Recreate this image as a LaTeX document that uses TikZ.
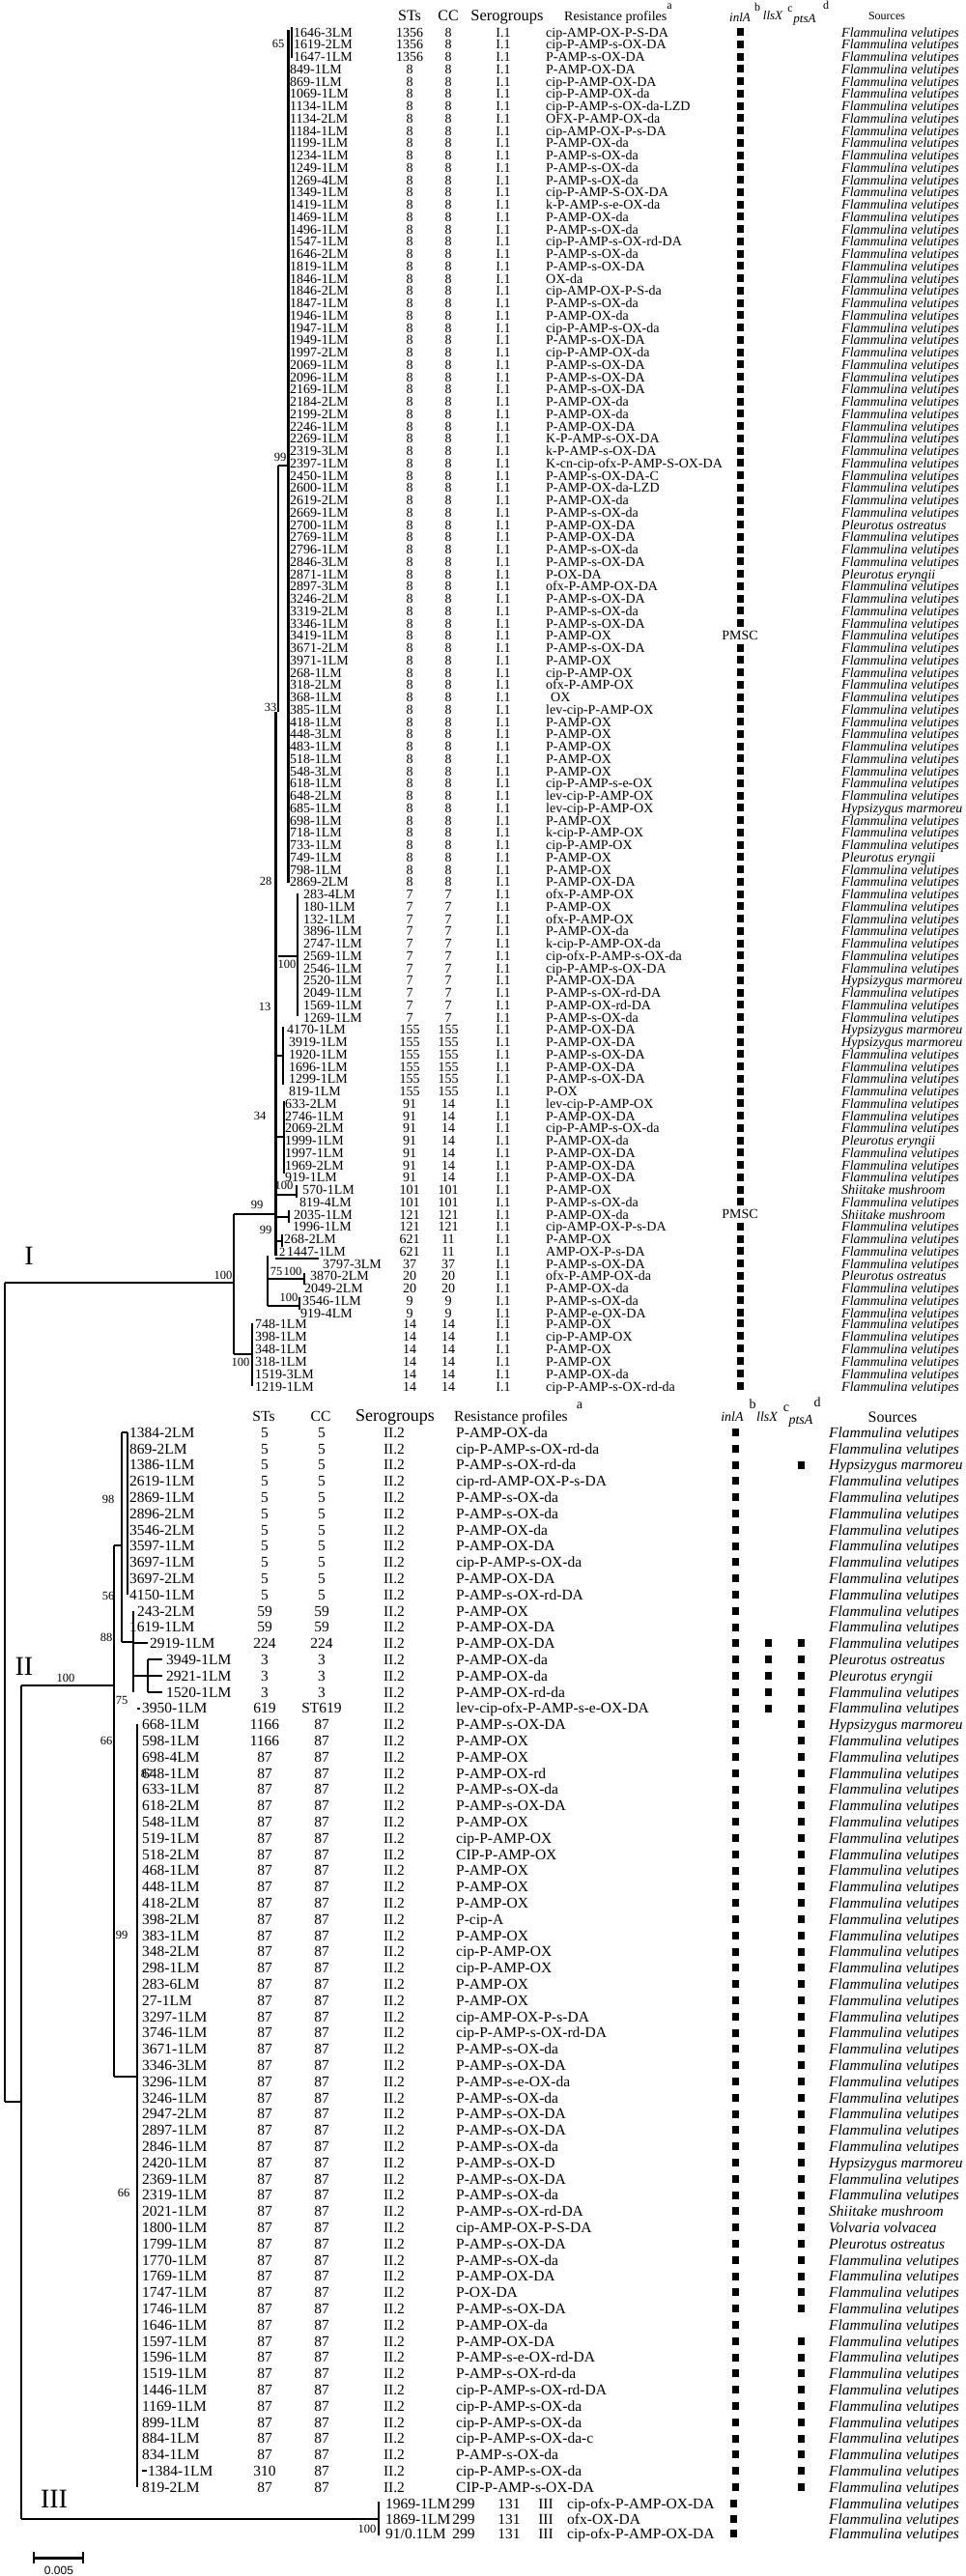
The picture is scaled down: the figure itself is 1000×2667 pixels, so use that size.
\documentclass[tikz,border=0pt]{standalone}
\usepackage{fontspec}
\setmainfont{Liberation Serif}
\newfontfamily\sansf{Liberation Sans}
\newcommand\srcF{\textit{Flammulina velutipes}}
\newcommand\srcPO{\textit{Pleurotus ostreatus}}
\newcommand\srcPE{\textit{Pleurotus eryngii}}
\newcommand\srcH{\textit{Hypsizygus marmoreu}}
\newcommand\srcS{\textit{Shiitake mushroom}}
\newcommand\srcV{\textit{Volvaria volvacea}}
\newcommand\gsq{\rule{7pt}{8pt}}
\tikzset{
 tt/.style={inner sep=0pt, font=\fontsize{14}{14}\selectfont},
 bt/.style={inner sep=0pt, font=\fontsize{15.5}{15.5}\selectfont},
 brl/.style={line width=1.3pt},
 tkl/.style={line width=3pt},
 boot/.style={inner sep=0pt, font=\fontsize{12.5}{12.5}\selectfont},
 clab/.style={inner sep=0pt, font=\fontsize{28}{28}\selectfont},
 sqn/.style={fill=black, minimum width=7pt, minimum height=8pt, inner sep=0pt},
}
\newcommand\TR[8]{%
 \pgfmathsetmacro\yy{#1<106 ? 33+(#1-1)*12.75 : 1370+(#1-106)*13}%
 \node[tt,anchor=base west] (tl#1) at (#2,\yy+5) {#3};
 \node[tt,anchor=base] (ts#1) at (424,\yy+5) {#4};
 \node[tt,anchor=base] (tc#1) at (464,\yy+5) {#5};
 \node[tt,anchor=base] (tg#1) at (521,\yy+5) {I.1};
 \node[tt,anchor=base west] (tr#1) at (565,\yy+5) {#6};
 \node[tt] (tq#1) at (766,\yy) {#7};
 \node[tt,anchor=base west] (to#1) at (871,\yy+5) {#8};
}
\newcommand\BR[8]{%
 \pgfmathsetmacro\yy{1483+(#1-1)*16.8}%
 \node[bt,anchor=base west] (bl#1) at (#2,\yy+5.3) {#3};
 \node[bt,anchor=base] (bs#1) at (274,\yy+5.3) {#4};
 \node[bt,anchor=base] (bc#1) at (333,\yy+5.3) {#5};
 \node[bt,anchor=base] (bg#1) at (408,\yy+5.3) {II.2};
 \node[bt,anchor=base west] (bp#1) at (472,\yy+5.3) {#6};
 \foreach \gx in {#7} {\node[sqn] (bq#1-\gx) at (\gx,\yy) {};}
 \node[bt,anchor=base west] (bo#1) at (858,\yy+5.3) {#8};
}
\begin{document}
\begin{tikzpicture}[x=1pt,y=-1pt]
\useasboundingbox (0,0) rectangle (1000,2667);
\fill[white] (0,0) rectangle (1000,2667);

% ---------- top header ----------
\node[inner sep=0pt,anchor=base,font=\fontsize{16}{16}\selectfont] (hST) at (424,21) {STs};
\node[inner sep=0pt,anchor=base,font=\fontsize{16}{16}\selectfont] (hCC) at (464,21) {CC};
\node[inner sep=0pt,anchor=base,font=\fontsize{16.5}{16.5}\selectfont] (hSG) at (525,21) {Serogroups};
\node[inner sep=0pt,anchor=base west,font=\fontsize{14}{14}\selectfont] (hRP) at (584,21) {Resistance profiles};
\node[inner sep=0pt,anchor=base,font=\fontsize{12}{12}\selectfont] (ha) at (693,9) {a};
\node[inner sep=0pt,anchor=base,font=\fontsize{13}{13}\selectfont\itshape] (hin) at (766,22) {inlA};
\node[inner sep=0pt,anchor=base,font=\fontsize{12}{12}\selectfont] (hb) at (784,11) {b};
\node[inner sep=0pt,anchor=base,font=\fontsize{13}{13}\selectfont\itshape] (hll) at (800,20) {llsX};
\node[inner sep=0pt,anchor=base,font=\fontsize{12}{12}\selectfont] (hc) at (818,12) {c};
\node[inner sep=0pt,anchor=base,font=\fontsize{13}{13}\selectfont\itshape] (hpt) at (833,23) {ptsA};
\node[inner sep=0pt,anchor=base,font=\fontsize{12}{12}\selectfont] (hd) at (855,9) {d};
\node[inner sep=0pt,anchor=base,font=\fontsize{12}{12}\selectfont] (hSo) at (918,20) {Sources};

% ---------- top rows ----------
\TR{1}{304}{1646-3LM}{1356}{8}{cip-AMP-OX-P-S-DA}{\gsq}{\srcF}
\TR{2}{304}{1619-2LM}{1356}{8}{cip-P-AMP-s-OX-DA}{\gsq}{\srcF}
\TR{3}{304}{1647-1LM}{1356}{8}{P-AMP-s-OX-DA}{\gsq}{\srcF}
\TR{4}{300}{849-1LM}{8}{8}{P-AMP-OX-DA}{\gsq}{\srcF}
\TR{5}{300}{869-1LM}{8}{8}{cip-P-AMP-OX-DA}{\gsq}{\srcF}
\TR{6}{300}{1069-1LM}{8}{8}{cip-P-AMP-OX-da}{\gsq}{\srcF}
\TR{7}{300}{1134-1LM}{8}{8}{cip-P-AMP-s-OX-da-LZD}{\gsq}{\srcF}
\TR{8}{300}{1134-2LM}{8}{8}{OFX-P-AMP-OX-da}{\gsq}{\srcF}
\TR{9}{300}{1184-1LM}{8}{8}{cip-AMP-OX-P-s-DA}{\gsq}{\srcF}
\TR{10}{300}{1199-1LM}{8}{8}{P-AMP-OX-da}{\gsq}{\srcF}
\TR{11}{300}{1234-1LM}{8}{8}{P-AMP-s-OX-da}{\gsq}{\srcF}
\TR{12}{300}{1249-1LM}{8}{8}{P-AMP-s-OX-da}{\gsq}{\srcF}
\TR{13}{300}{1269-4LM}{8}{8}{P-AMP-s-OX-da}{\gsq}{\srcF}
\TR{14}{300}{1349-1LM}{8}{8}{cip-P-AMP-S-OX-DA}{\gsq}{\srcF}
\TR{15}{300}{1419-1LM}{8}{8}{k-P-AMP-s-e-OX-da}{\gsq}{\srcF}
\TR{16}{300}{1469-1LM}{8}{8}{P-AMP-OX-da}{\gsq}{\srcF}
\TR{17}{300}{1496-1LM}{8}{8}{P-AMP-s-OX-da}{\gsq}{\srcF}
\TR{18}{300}{1547-1LM}{8}{8}{cip-P-AMP-s-OX-rd-DA}{\gsq}{\srcF}
\TR{19}{300}{1646-2LM}{8}{8}{P-AMP-s-OX-da}{\gsq}{\srcF}
\TR{20}{300}{1819-1LM}{8}{8}{P-AMP-s-OX-DA}{\gsq}{\srcF}
\TR{21}{300}{1846-1LM}{8}{8}{OX-da}{\gsq}{\srcF}
\TR{22}{300}{1846-2LM}{8}{8}{cip-AMP-OX-P-S-da}{\gsq}{\srcF}
\TR{23}{300}{1847-1LM}{8}{8}{P-AMP-s-OX-da}{\gsq}{\srcF}
\TR{24}{300}{1946-1LM}{8}{8}{P-AMP-OX-da}{\gsq}{\srcF}
\TR{25}{300}{1947-1LM}{8}{8}{cip-P-AMP-s-OX-da}{\gsq}{\srcF}
\TR{26}{300}{1949-1LM}{8}{8}{P-AMP-s-OX-DA}{\gsq}{\srcF}
\TR{27}{300}{1997-2LM}{8}{8}{cip-P-AMP-OX-da}{\gsq}{\srcF}
\TR{28}{300}{2069-1LM}{8}{8}{P-AMP-s-OX-DA}{\gsq}{\srcF}
\TR{29}{300}{2096-1LM}{8}{8}{P-AMP-s-OX-DA}{\gsq}{\srcF}
\TR{30}{300}{2169-1LM}{8}{8}{P-AMP-s-OX-DA}{\gsq}{\srcF}
\TR{31}{300}{2184-2LM}{8}{8}{P-AMP-OX-da}{\gsq}{\srcF}
\TR{32}{300}{2199-2LM}{8}{8}{P-AMP-OX-da}{\gsq}{\srcF}
\TR{33}{300}{2246-1LM}{8}{8}{P-AMP-OX-DA}{\gsq}{\srcF}
\TR{34}{300}{2269-1LM}{8}{8}{K-P-AMP-s-OX-DA}{\gsq}{\srcF}
\TR{35}{300}{2319-3LM}{8}{8}{k-P-AMP-s-OX-DA}{\gsq}{\srcF}
\TR{36}{300}{2397-1LM}{8}{8}{K-cn-cip-ofx-P-AMP-S-OX-DA}{\gsq}{\srcF}
\TR{37}{300}{2450-1LM}{8}{8}{P-AMP-s-OX-DA-C}{\gsq}{\srcF}
\TR{38}{300}{2600-1LM}{8}{8}{P-AMP-OX-da-LZD}{\gsq}{\srcF}
\TR{39}{300}{2619-2LM}{8}{8}{P-AMP-OX-da}{\gsq}{\srcF}
\TR{40}{300}{2669-1LM}{8}{8}{P-AMP-s-OX-da}{\gsq}{\srcF}
\TR{41}{300}{2700-1LM}{8}{8}{P-AMP-OX-DA}{\gsq}{\srcPO}
\TR{42}{300}{2769-1LM}{8}{8}{P-AMP-OX-DA}{\gsq}{\srcF}
\TR{43}{300}{2796-1LM}{8}{8}{P-AMP-s-OX-da}{\gsq}{\srcF}
\TR{44}{300}{2846-3LM}{8}{8}{P-AMP-s-OX-DA}{\gsq}{\srcF}
\TR{45}{300}{2871-1LM}{8}{8}{P-OX-DA}{\gsq}{\srcPE}
\TR{46}{300}{2897-3LM}{8}{8}{ofx-P-AMP-OX-DA}{\gsq}{\srcF}
\TR{47}{300}{3246-2LM}{8}{8}{P-AMP-s-OX-DA}{\gsq}{\srcF}
\TR{48}{300}{3319-2LM}{8}{8}{P-AMP-s-OX-da}{\gsq}{\srcF}
\TR{49}{300}{3346-1LM}{8}{8}{P-AMP-s-OX-DA}{\gsq}{\srcF}
\TR{50}{300}{3419-1LM}{8}{8}{P-AMP-OX}{PMSC}{\srcF}
\TR{51}{300}{3671-2LM}{8}{8}{P-AMP-s-OX-DA}{\gsq}{\srcF}
\TR{52}{300}{3971-1LM}{8}{8}{P-AMP-OX}{\gsq}{\srcF}
\TR{53}{300}{268-1LM}{8}{8}{cip-P-AMP-OX}{\gsq}{\srcF}
\TR{54}{300}{318-2LM}{8}{8}{ofx-P-AMP-OX}{\gsq}{\srcF}
\TR{55}{300}{368-1LM}{8}{8}{\hspace{5pt}OX}{\gsq}{\srcF}
\TR{56}{300}{385-1LM}{8}{8}{lev-cip-P-AMP-OX}{\gsq}{\srcF}
\TR{57}{300}{418-1LM}{8}{8}{P-AMP-OX}{\gsq}{\srcF}
\TR{58}{300}{448-3LM}{8}{8}{P-AMP-OX}{\gsq}{\srcF}
\TR{59}{300}{483-1LM}{8}{8}{P-AMP-OX}{\gsq}{\srcF}
\TR{60}{300}{518-1LM}{8}{8}{P-AMP-OX}{\gsq}{\srcF}
\TR{61}{300}{548-3LM}{8}{8}{P-AMP-OX}{\gsq}{\srcF}
\TR{62}{300}{618-1LM}{8}{8}{cip-P-AMP-s-e-OX}{\gsq}{\srcF}
\TR{63}{300}{648-2LM}{8}{8}{lev-cip-P-AMP-OX}{\gsq}{\srcF}
\TR{64}{300}{685-1LM}{8}{8}{lev-cip-P-AMP-OX}{\gsq}{\srcH}
\TR{65}{300}{698-1LM}{8}{8}{P-AMP-OX}{\gsq}{\srcF}
\TR{66}{300}{718-1LM}{8}{8}{k-cip-P-AMP-OX}{\gsq}{\srcF}
\TR{67}{300}{733-1LM}{8}{8}{cip-P-AMP-OX}{\gsq}{\srcF}
\TR{68}{300}{749-1LM}{8}{8}{P-AMP-OX}{\gsq}{\srcPE}
\TR{69}{300}{798-1LM}{8}{8}{P-AMP-OX}{\gsq}{\srcF}
\TR{70}{300}{2869-2LM}{8}{8}{P-AMP-OX-DA}{\gsq}{\srcF}
\TR{71}{314}{283-4LM}{7}{7}{ofx-P-AMP-OX}{\gsq}{\srcF}
\TR{72}{314}{180-1LM}{7}{7}{P-AMP-OX}{\gsq}{\srcF}
\TR{73}{314}{132-1LM}{7}{7}{ofx-P-AMP-OX}{\gsq}{\srcF}
\TR{74}{314}{3896-1LM}{7}{7}{P-AMP-OX-da}{\gsq}{\srcF}
\TR{75}{314}{2747-1LM}{7}{7}{k-cip-P-AMP-OX-da}{\gsq}{\srcF}
\TR{76}{314}{2569-1LM}{7}{7}{cip-ofx-P-AMP-s-OX-da}{\gsq}{\srcF}
\TR{77}{314}{2546-1LM}{7}{7}{cip-P-AMP-s-OX-DA}{\gsq}{\srcF}
\TR{78}{314}{2520-1LM}{7}{7}{P-AMP-OX-DA}{\gsq}{\srcH}
\TR{79}{314}{2049-1LM}{7}{7}{P-AMP-s-OX-rd-DA}{\gsq}{\srcF}
\TR{80}{314}{1569-1LM}{7}{7}{P-AMP-OX-rd-DA}{\gsq}{\srcF}
\TR{81}{314}{1269-1LM}{7}{7}{P-AMP-s-OX-da}{\gsq}{\srcF}
\TR{82}{297}{4170-1LM}{155}{155}{P-AMP-OX-DA}{\gsq}{\srcH}
\TR{83}{299}{3919-1LM}{155}{155}{P-AMP-OX-DA}{\gsq}{\srcH}
\TR{84}{299}{1920-1LM}{155}{155}{P-AMP-s-OX-DA}{\gsq}{\srcF}
\TR{85}{299}{1696-1LM}{155}{155}{P-AMP-OX-DA}{\gsq}{\srcF}
\TR{86}{299}{1299-1LM}{155}{155}{P-AMP-s-OX-DA}{\gsq}{\srcF}
\TR{87}{299}{819-1LM}{155}{155}{P-OX}{\gsq}{\srcF}
\TR{88}{295}{633-2LM}{91}{14}{lev-cip-P-AMP-OX}{\gsq}{\srcF}
\TR{89}{295}{2746-1LM}{91}{14}{P-AMP-OX-DA}{\gsq}{\srcF}
\TR{90}{295}{2069-2LM}{91}{14}{cip-P-AMP-s-OX-da}{\gsq}{\srcF}
\TR{91}{295}{1999-1LM}{91}{14}{P-AMP-OX-da}{\gsq}{\srcPE}
\TR{92}{295}{1997-1LM}{91}{14}{P-AMP-OX-DA}{\gsq}{\srcF}
\TR{93}{295}{1969-2LM}{91}{14}{P-AMP-OX-DA}{\gsq}{\srcF}
\TR{94}{295}{919-1LM}{91}{14}{P-AMP-OX-DA}{\gsq}{\srcF}
\TR{95}{313}{570-1LM}{101}{101}{P-AMP-OX}{\gsq}{\srcS}
\TR{96}{310}{819-4LM}{101}{101}{P-AMP-s-OX-da}{\gsq}{\srcF}
\TR{97}{304}{2035-1LM}{121}{121}{P-AMP-OX-da}{PMSC}{\srcS}
\TR{98}{303}{1996-1LM}{121}{121}{cip-AMP-OX-P-s-DA}{\gsq}{\srcF}
\TR{99}{294}{268-2LM}{621}{11}{P-AMP-OX}{\gsq}{\srcF}
\TR{100}{297}{1447-1LM}{621}{11}{AMP-OX-P-s-DA}{\gsq}{\srcF}
\TR{101}{334}{3797-3LM}{37}{37}{P-AMP-s-OX-DA}{\gsq}{\srcF}
\TR{102}{321}{3870-2LM}{20}{20}{ofx-P-AMP-OX-da}{\gsq}{\srcPO}
\TR{103}{315}{2049-2LM}{20}{20}{P-AMP-OX-da}{\gsq}{\srcF}
\TR{104}{313}{3546-1LM}{9}{9}{P-AMP-s-OX-da}{\gsq}{\srcF}
\TR{105}{311}{919-4LM}{9}{9}{P-AMP-e-OX-DA}{\gsq}{\srcF}
\TR{106}{264}{748-1LM}{14}{14}{P-AMP-OX}{\gsq}{\srcF}
\TR{107}{264}{398-1LM}{14}{14}{cip-P-AMP-OX}{\gsq}{\srcF}
\TR{108}{264}{348-1LM}{14}{14}{P-AMP-OX}{\gsq}{\srcF}
\TR{109}{264}{318-1LM}{14}{14}{P-AMP-OX}{\gsq}{\srcF}
\TR{110}{264}{1519-3LM}{14}{14}{P-AMP-OX-da}{\gsq}{\srcF}
\TR{111}{264}{1219-1LM}{14}{14}{cip-P-AMP-s-OX-rd-da}{\gsq}{\srcF}

% ---------- top tree ----------
\draw[tkl] (298,31) -- (298,914);
\draw[brl] (302,28) -- (302,60);
\draw[brl] (288,482) -- (298,482);
\draw[brl] (288,482) -- (288,737);
\draw[tkl] (285,737) -- (285,1300);
\draw[brl] (288,990) -- (308,990);
\draw[brl] (308,925) -- (308,1052);
\draw[brl] (285,1093) -- (293,1093);
\draw[brl] (293,1063) -- (293,1123);
\draw[brl] (285,1177) -- (294,1177);
\draw[brl] (294,1140) -- (294,1215);
\draw[brl] (285,1237) -- (307,1237);
\draw[brl] (307,1227) -- (307,1240);
\draw[brl] (285,1260) -- (299,1260);
\draw[brl] (299,1253) -- (299,1266);
\draw[brl] (285,1285) -- (292,1285);
\draw[brl] (292,1278) -- (292,1291);
\draw[brl] (285,1303) -- (330,1303);
\draw[brl] (277,1300) -- (277,1352);
\draw[brl] (277,1324) -- (315,1324);
\draw[brl] (315,1318) -- (315,1330);
\draw[brl] (277,1352) -- (310,1352);
\draw[brl] (310,1343) -- (310,1356);
\draw[brl] (242,1257) -- (285,1257);
\draw[brl] (242,1257) -- (242,1402);
\draw[brl] (242,1402) -- (261,1402);
\draw[brl] (261,1370) -- (261,1435);
\draw[brl] (5,1328) -- (242,1328);

\node[boot] (b1) at (288,45) {65};
\node[boot] (b2) at (290,473) {99};
\node[boot] (b3) at (280,732) {33};
\node[boot] (b4) at (275,912) {28};
\node[boot] (b5) at (297,998) {100};
\node[boot] (b6) at (274,1042) {13};
\node[boot] (b7) at (269,1155) {34};
\node[boot] (b8) at (294,1227) {100};
\node[boot] (b9) at (266,1247) {99};
\node[boot] (b10) at (275,1273) {99};
\node[boot] (b11) at (289,1296) {12};
\node[boot] (b12) at (286,1316) {75};
\node[boot] (b13) at (303,1316) {100};
\node[boot] (b14) at (299,1343) {100};
\node[boot] (b15) at (231,1320) {100};
\node[boot] (b16) at (249,1410) {100};
\node[clab] (cI) at (30,1300) {I};

% ---------- bottom header ----------
\node[inner sep=0pt,anchor=base,font=\fontsize{15.5}{15.5}\selectfont] (gST) at (273,1471) {STs};
\node[inner sep=0pt,anchor=base,font=\fontsize{15.5}{15.5}\selectfont] (gCC) at (332,1471) {CC};
\node[inner sep=0pt,anchor=base,font=\fontsize{18}{18}\selectfont] (gSG) at (409,1471) {Serogroups};
\node[inner sep=0pt,anchor=base west,font=\fontsize{15.5}{15.5}\selectfont] (gRP) at (470,1471) {Resistance profiles};
\node[inner sep=0pt,anchor=base,font=\fontsize{14}{14}\selectfont] (ga) at (600,1458) {a};
\node[inner sep=0pt,anchor=base,font=\fontsize{14}{14}\selectfont\itshape] (gin) at (758,1471) {inlA};
\node[inner sep=0pt,anchor=base,font=\fontsize{14}{14}\selectfont] (gb) at (779,1458) {b};
\node[inner sep=0pt,anchor=base,font=\fontsize{14}{14}\selectfont\itshape] (gll) at (794,1471) {llsX};
\node[inner sep=0pt,anchor=base,font=\fontsize{14}{14}\selectfont] (gc) at (814,1461) {c};
\node[inner sep=0pt,anchor=base,font=\fontsize{14}{14}\selectfont\itshape] (gpt) at (829,1474) {ptsA};
\node[inner sep=0pt,anchor=base,font=\fontsize{14}{14}\selectfont] (gd) at (846,1456) {d};
\node[inner sep=0pt,anchor=base,font=\fontsize{16}{16}\selectfont] (gSo) at (924,1472) {Sources};

% ---------- bottom rows ----------
\BR{1}{134}{1384-2LM}{5}{5}{P-AMP-OX-da}{761}{\srcF}
\BR{2}{134}{869-2LM}{5}{5}{cip-P-AMP-s-OX-rd-da}{761}{\srcF}
\BR{3}{134}{1386-1LM}{5}{5}{P-AMP-s-OX-rd-da}{761,829}{\srcH}
\BR{4}{134}{2619-1LM}{5}{5}{cip-rd-AMP-OX-P-s-DA}{761}{\srcF}
\BR{5}{134}{2869-1LM}{5}{5}{P-AMP-s-OX-da}{761}{\srcF}
\BR{6}{134}{2896-2LM}{5}{5}{P-AMP-s-OX-da}{761}{\srcF}
\BR{7}{134}{3546-2LM}{5}{5}{P-AMP-OX-da}{761}{\srcF}
\BR{8}{134}{3597-1LM}{5}{5}{P-AMP-OX-DA}{761}{\srcF}
\BR{9}{134}{3697-1LM}{5}{5}{cip-P-AMP-s-OX-da}{761}{\srcF}
\BR{10}{134}{3697-2LM}{5}{5}{P-AMP-OX-DA}{761}{\srcF}
\BR{11}{134}{4150-1LM}{5}{5}{P-AMP-s-OX-rd-DA}{761}{\srcF}
\BR{12}{142}{243-2LM}{59}{59}{P-AMP-OX}{761}{\srcF}
\BR{13}{134}{1619-1LM}{59}{59}{P-AMP-OX-DA}{761}{\srcF}
\BR{14}{155}{2919-1LM}{224}{224}{P-AMP-OX-DA}{761,795,829}{\srcF}
\BR{15}{172}{3949-1LM}{3}{3}{P-AMP-OX-da}{761,795,829}{\srcPO}
\BR{16}{172}{2921-1LM}{3}{3}{P-AMP-OX-da}{761,795,829}{\srcPE}
\BR{17}{172}{1520-1LM}{3}{3}{P-AMP-OX-rd-da}{761,795,829}{\srcF}
\BR{18}{147}{3950-1LM}{619}{ST619}{lev-cip-ofx-P-AMP-s-e-OX-DA}{761,795,829}{\srcF}
\BR{19}{147}{668-1LM}{1166}{87}{P-AMP-s-OX-DA}{761,829}{\srcH}
\BR{20}{147}{598-1LM}{1166}{87}{P-AMP-OX}{761,829}{\srcF}
\BR{21}{147}{698-4LM}{87}{87}{P-AMP-OX}{761,829}{\srcF}
\BR{22}{147}{648-1LM}{87}{87}{P-AMP-OX-rd}{761,829}{\srcF}
\BR{23}{147}{633-1LM}{87}{87}{P-AMP-s-OX-da}{761,829}{\srcF}
\BR{24}{147}{618-2LM}{87}{87}{P-AMP-s-OX-DA}{761,829}{\srcF}
\BR{25}{147}{548-1LM}{87}{87}{P-AMP-OX}{761,829}{\srcF}
\BR{26}{147}{519-1LM}{87}{87}{cip-P-AMP-OX}{761,829}{\srcF}
\BR{27}{147}{518-2LM}{87}{87}{CIP-P-AMP-OX}{761,829}{\srcF}
\BR{28}{147}{468-1LM}{87}{87}{P-AMP-OX}{761,829}{\srcF}
\BR{29}{147}{448-1LM}{87}{87}{P-AMP-OX}{761,829}{\srcF}
\BR{30}{147}{418-2LM}{87}{87}{P-AMP-OX}{761,829}{\srcF}
\BR{31}{147}{398-2LM}{87}{87}{P-cip-A}{761,829}{\srcF}
\BR{32}{147}{383-1LM}{87}{87}{P-AMP-OX}{761,829}{\srcF}
\BR{33}{147}{348-2LM}{87}{87}{cip-P-AMP-OX}{761,829}{\srcF}
\BR{34}{147}{298-1LM}{87}{87}{cip-P-AMP-OX}{761,829}{\srcF}
\BR{35}{147}{283-6LM}{87}{87}{P-AMP-OX}{761,829}{\srcF}
\BR{36}{147}{27-1LM}{87}{87}{P-AMP-OX}{761,829}{\srcF}
\BR{37}{147}{3297-1LM}{87}{87}{cip-AMP-OX-P-s-DA}{761,829}{\srcF}
\BR{38}{147}{3746-1LM}{87}{87}{cip-P-AMP-s-OX-rd-DA}{761,829}{\srcF}
\BR{39}{147}{3671-1LM}{87}{87}{P-AMP-s-OX-da}{761,829}{\srcF}
\BR{40}{147}{3346-3LM}{87}{87}{P-AMP-s-OX-DA}{761,829}{\srcF}
\BR{41}{147}{3296-1LM}{87}{87}{P-AMP-s-e-OX-da}{761,829}{\srcF}
\BR{42}{147}{3246-1LM}{87}{87}{P-AMP-s-OX-da}{761,829}{\srcF}
\BR{43}{147}{2947-2LM}{87}{87}{P-AMP-s-OX-DA}{761,829}{\srcF}
\BR{44}{147}{2897-1LM}{87}{87}{P-AMP-s-OX-DA}{761,829}{\srcF}
\BR{45}{147}{2846-1LM}{87}{87}{P-AMP-s-OX-da}{761,829}{\srcF}
\BR{46}{147}{2420-1LM}{87}{87}{P-AMP-s-OX-D}{761,829}{\srcH}
\BR{47}{147}{2369-1LM}{87}{87}{P-AMP-s-OX-DA}{761,829}{\srcF}
\BR{48}{147}{2319-1LM}{87}{87}{P-AMP-s-OX-da}{761,829}{\srcF}
\BR{49}{147}{2021-1LM}{87}{87}{P-AMP-s-OX-rd-DA}{761,829}{\srcS}
\BR{50}{147}{1800-1LM}{87}{87}{cip-AMP-OX-P-S-DA}{761,829}{\srcV}
\BR{51}{147}{1799-1LM}{87}{87}{P-AMP-s-OX-DA}{761,829}{\srcPO}
\BR{52}{147}{1770-1LM}{87}{87}{P-AMP-s-OX-da}{761,829}{\srcF}
\BR{53}{147}{1769-1LM}{87}{87}{P-AMP-OX-DA}{761,829}{\srcF}
\BR{54}{147}{1747-1LM}{87}{87}{P-OX-DA}{761,829}{\srcF}
\BR{55}{147}{1746-1LM}{87}{87}{P-AMP-s-OX-DA}{761,829}{\srcF}
\BR{56}{147}{1646-1LM}{87}{87}{P-AMP-OX-da}{761}{\srcF}
\BR{57}{147}{1597-1LM}{87}{87}{P-AMP-OX-DA}{761,829}{\srcF}
\BR{58}{147}{1596-1LM}{87}{87}{P-AMP-s-e-OX-rd-DA}{761,829}{\srcF}
\BR{59}{147}{1519-1LM}{87}{87}{P-AMP-s-OX-rd-da}{761,829}{\srcF}
\BR{60}{147}{1446-1LM}{87}{87}{cip-P-AMP-s-OX-rd-DA}{761,829}{\srcF}
\BR{61}{147}{1169-1LM}{87}{87}{cip-P-AMP-s-OX-da}{761,829}{\srcF}
\BR{62}{147}{899-1LM}{87}{87}{cip-P-AMP-s-OX-da}{761,829}{\srcF}
\BR{63}{147}{884-1LM}{87}{87}{cip-P-AMP-s-OX-da-c}{761,829}{\srcF}
\BR{64}{147}{834-1LM}{87}{87}{P-AMP-s-OX-da}{761,829}{\srcF}
\BR{65}{153}{1384-1LM}{310}{87}{cip-P-AMP-s-OX-da}{761,829}{\srcF}
\BR{66}{147}{819-2LM}{87}{87}{CIP-P-AMP-s-OX-DA}{761,829}{\srcF}

% ---------- clade III rows ----------
\foreach \yy/\lab/\res [count=\k] in {2592/1969-1LM/cip-ofx-P-AMP-OX-DA, 2608/1869-1LM/ofx-OX-DA, 2623/91\slash 0.1LM/cip-ofx-P-AMP-OX-DA}{
 \node[bt,anchor=base west] (cl\k) at (399,\yy+5.3) {\lab};
 \node[bt,anchor=base] (cs\k) at (480,\yy+5.3) {299};
 \node[bt,anchor=base] (cc\k) at (527,\yy+5.3) {131};
 \node[bt,anchor=base] (cg\k) at (565,\yy+5.3) {III};
 \node[bt,anchor=base west] (cr\k) at (587,\yy+5.3) {\res};
 \node[sqn] (cq\k) at (759,\yy) {};
 \node[bt,anchor=base west] (co\k) at (858,\yy+5.3) {\srcF};
}

% ---------- bottom tree ----------
\draw[brl] (5,1328) -- (5,2176);
\draw[brl] (5,2176) -- (22,2176);
\draw[brl] (22,1745) -- (22,2608);
\draw[brl] (22,2608) -- (392,2608);
\draw[brl] (392,2590) -- (392,2625);
\draw[brl] (22,1745) -- (118,1745);
\draw[brl] (118,1600) -- (118,2150);
\draw[brl] (118,1600) -- (126,1600);
\draw[brl] (126,1483) -- (126,1700);
\draw[brl] (126,1483) -- (132,1483);
\draw[brl] (132,1483) -- (132,1651);
\draw[brl] (126,1700) -- (138,1700);
\draw[brl] (138,1668) -- (138,1752);
\draw[brl] (138,1701) -- (153,1701);
\draw[brl] (138,1735) -- (153,1735);
\draw[brl] (153,1718) -- (153,1752);
\draw[brl] (153,1718) -- (168,1718);
\draw[brl] (153,1735) -- (168,1735);
\draw[brl] (153,1752) -- (168,1752);
\draw[brl] (118,2150) -- (142,2150);
\draw[brl] (142,1785) -- (142,2575);
\draw[brl] (142,1769) -- (145,1769);
\draw[brl] (147,2558) -- (152,2558);

\node[boot] (d1) at (112,1552) {98};
\node[boot] (d2) at (112,1652) {56};
\node[boot] (d3) at (110,1695) {88};
\node[boot] (d4) at (126,1760) {75};
\node[boot] (d5) at (68,1737) {100};
\node[boot] (d6) at (110,1802) {66};
\node[boot] (d7) at (152,1836) {87};
\node[boot] (d8) at (126,2003) {99};
\node[boot] (d9) at (128,2270) {66};
\node[boot] (d10) at (380,2618) {100};
\node[clab] (cII) at (25,1725) {II};
\node[clab] (cIII) at (56,2587) {III};

% ---------- scale bar ----------
\draw[line width=3pt] (35,2648) -- (86,2648);
\draw[line width=1.5pt] (35,2642) -- (35,2654);
\draw[line width=1.5pt] (86,2642) -- (86,2654);
\node[inner sep=0pt,font=\sansf\fontsize{12}{12}\selectfont] (sb) at (61,2661) {0.005};
\end{tikzpicture}
\end{document}
